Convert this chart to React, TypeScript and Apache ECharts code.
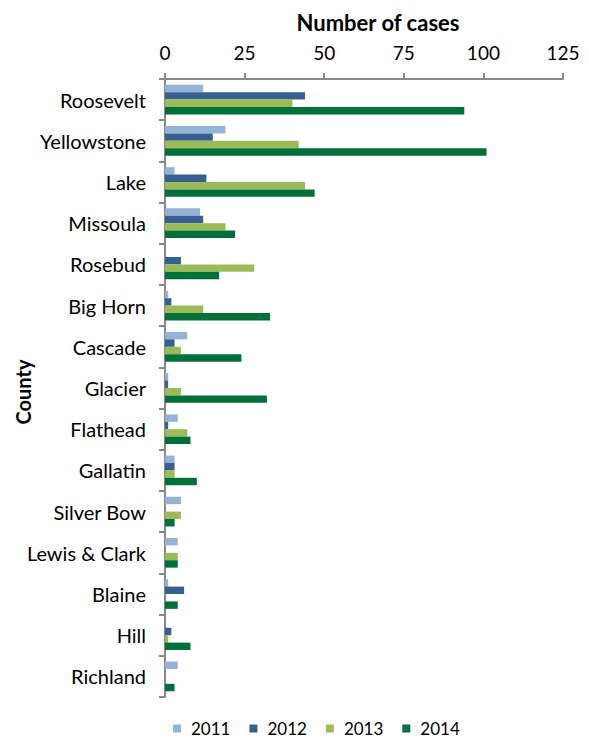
import React, { useEffect, useRef } from "react";
import * as echarts from "echarts";

const counties = [
  "Roosevelt", "Yellowstone", "Lake", "Missoula", "Rosebud", "Big Horn", "Cascade",
  "Glacier", "Flathead", "Gallatin", "Silver Bow", "Lewis & Clark", "Blaine", "Hill", "Richland",
];
const years = ["2011", "2012", "2013", "2014"];
const cases2011 = [12, 19, 3, 11, 0, 1, 7, 1, 4, 3, 5, 4, 1, 0, 4];
const cases2012 = [44, 15, 13, 12, 5, 2, 3, 1, 1, 3, 0, 0, 6, 2, 0];
const cases2013 = [40, 42, 44, 19, 28, 12, 5, 5, 7, 3, 5, 4, 0, 1, 0];
const cases2014 = [94, 101, 47, 22, 17, 33, 24, 32, 8, 10, 3, 4, 4, 8, 3];
const colors = ["#95B3D7", "#376092", "#9BBB59", "#00703A"];

const FONT = "Lato";

export default function App() {
  const ref = useRef<HTMLDivElement>(null);
  useEffect(() => {
    const chart = echarts.init(ref.current!, null, { renderer: "svg" });
    const data = [cases2011, cases2012, cases2013, cases2014];
    chart.setOption({
      animation: false,
      color: colors,
      textStyle: { fontFamily: FONT },
      grid: { left: 165, right: 26, top: 79, bottom: 41, containLabel: false, outerBoundsMode: "none" },
      legend: {
        top: 720,
        left: 173,
        itemWidth: 8,
        itemHeight: 8,
        itemGap: 19,
        padding: 0,
        icon: "rect",
        textStyle: { fontFamily: FONT, fontSize: 17, color: "#000", padding: [0, 0, 0, 5] },
        data: years,
      },
      xAxis: {
        type: "value",
        position: "top",
        min: 0,
        max: 125,
        interval: 25,
        name: "Number of cases",
        nameLocation: "middle",
        nameGap: 46,
        nameMoveOverlap: false,
        nameTextStyle: { fontFamily: FONT, fontSize: 22, fontWeight: "bold", color: "#000", padding: [0, 0, 0, 28] },
        axisLine: { show: true, lineStyle: { color: "#888", width: 2 } },
        axisTick: { show: true, length: 6, lineStyle: { color: "#888", width: 2 } },
        axisLabel: { fontFamily: FONT, fontSize: 19, color: "#000", margin: 17 },
        splitLine: { show: false },
      },
      yAxis: {
        type: "category",
        inverse: true,
        data: counties,
        name: "County",
        nameLocation: "middle",
        nameGap: 132,
        nameRotate: 90,
        nameMoveOverlap: false,
        nameTextStyle: { fontFamily: FONT, fontSize: 20, fontWeight: "bold", color: "#000", padding: [0, 8, 0, 0] },
        axisLine: { show: true, lineStyle: { color: "#888", width: 2 } },
        axisTick: { show: true, length: 6, lineStyle: { color: "#888", width: 2 } },
        axisLabel: { fontFamily: FONT, fontSize: 20, color: "#000", margin: 19 },
      },
      series: years.map((y, i) => ({
        name: y,
        type: "bar",
        data: data[i],
        barGap: "0%",
        barCategoryGap: "28%",
        itemStyle: { color: colors[i] },
      })),
    });
    return () => chart.dispose();
  }, []);
  return <div ref={ref} style={{ width: 589, height: 738, position: "absolute", left: 0, top: 0 }} />;
}
